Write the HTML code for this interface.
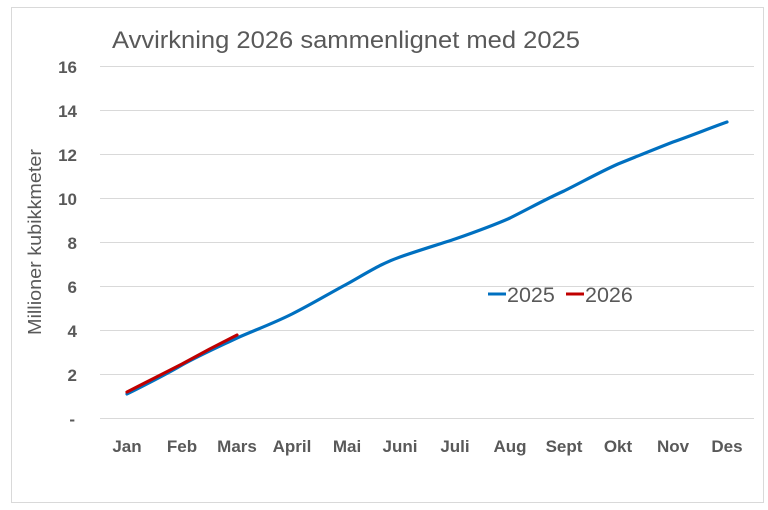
<!DOCTYPE html>
<html><head><meta charset="utf-8"><style>
html,body{margin:0;padding:0;background:#fff;}
svg{display:block;font-family:"Liberation Sans",sans-serif;}
</style></head><body>
<svg width="768" height="510" viewBox="0 0 768 510">
<rect x="11.5" y="7.5" width="752" height="495" fill="#fff" stroke="#d9d9d9"/>
<text x="112" y="48" font-size="24" fill="#595959" textLength="468" lengthAdjust="spacingAndGlyphs">Avvirkning 2026 sammenlignet med 2025</text>
<g stroke="#d9d9d9" stroke-width="1">
<line x1="100" x2="754" y1="66.5" y2="66.5"/>
<line x1="100" x2="754" y1="110.5" y2="110.5"/>
<line x1="100" x2="754" y1="154.5" y2="154.5"/>
<line x1="100" x2="754" y1="198.5" y2="198.5"/>
<line x1="100" x2="754" y1="242.5" y2="242.5"/>
<line x1="100" x2="754" y1="286.5" y2="286.5"/>
<line x1="100" x2="754" y1="330.5" y2="330.5"/>
<line x1="100" x2="754" y1="374.5" y2="374.5"/>
<line x1="100" x2="754" y1="418.5" y2="418.5"/>
</g>
<g font-size="17" font-weight="bold" fill="#595959" text-anchor="end">
<text x="77" y="73">16</text><text x="77" y="117">14</text><text x="77" y="161">12</text>
<text x="77" y="205">10</text><text x="77" y="249">8</text><text x="77" y="293">6</text>
<text x="77" y="337">4</text><text x="77" y="381">2</text><text x="75" y="425">-</text>
</g>
<text transform="translate(41,242) rotate(-90)" font-size="18" fill="#595959" text-anchor="middle" textLength="186" lengthAdjust="spacingAndGlyphs">Millioner kubikkmeter</text>
<g font-size="17" font-weight="bold" fill="#595959" text-anchor="middle">
<text x="127" y="452">Jan</text><text x="182" y="452">Feb</text><text x="237" y="452">Mars</text>
<text x="292" y="452">April</text><text x="347" y="452">Mai</text><text x="400" y="452">Juni</text>
<text x="455" y="452">Juli</text><text x="510" y="452">Aug</text><text x="564" y="452">Sept</text>
<text x="618" y="452">Okt</text><text x="673" y="452">Nov</text><text x="727" y="452">Des</text>
</g>
<path d="M127,394 C145,385 165,375 182,365 C200,355 218,347 237,338 C255,330 272,324 292,314 C312,304 330,293 347,284 C365,274 380,264 400,257 C420,250 437,245 455,239 C475,232 492,226 510,218 C530,208 546,199 564,191 C584,181 600,172 618,164 C638,156 655,149 673,142 C693,135 710,128 727,122" fill="none" stroke="#0070c0" stroke-width="3.2" stroke-linecap="round"/>
<path d="M127,392 C145,383 164,373 182,364 C200,354 219,344 237,335" fill="none" stroke="#c00000" stroke-width="3.2" stroke-linecap="round"/>
<line x1="488" x2="506" y1="294" y2="294" stroke="#0070c0" stroke-width="3"/>
<text x="507" y="302" font-size="21.5" fill="#595959">2025</text>
<line x1="566" x2="584" y1="294" y2="294" stroke="#c00000" stroke-width="3"/>
<text x="585" y="302" font-size="21.5" fill="#595959">2026</text>
</svg>
</body></html>
